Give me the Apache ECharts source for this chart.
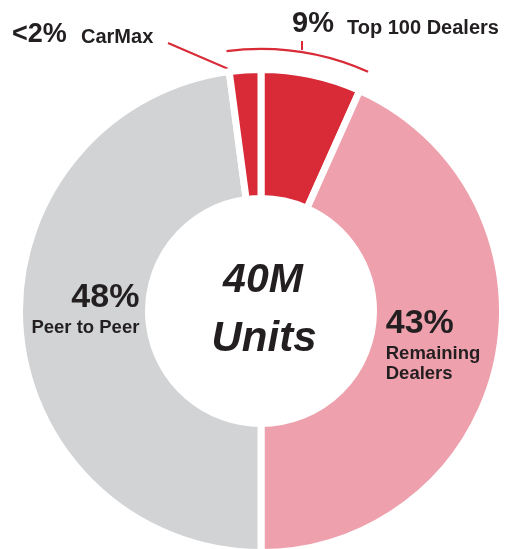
<!DOCTYPE html>
<html>
<head>
<meta charset="utf-8">
<script src="https://cdn.jsdelivr.net/npm/echarts@6/dist/echarts.min.js"></script>
<style>
html,body{margin:0;padding:0;background:#fff;}
#chart{width:517px;height:549px;}
</style>
</head>
<body>
<div id="chart"></div>
<script>
// Segment order clockwise from 12 o'clock
const categories = ['Top 100 Dealers', 'Remaining Dealers', 'Peer to Peer', 'CarMax'];
// Angular shares as read from the ring (percent of the circle)
const shares = [6.7, 43.3, 47.9, 2.1];
// Printed percentage labels
const pctLabels = ['9%', '43%', '48%', '<2%'];
const colors = ['#d92b37', '#eea0ac', '#d1d3d4', '#d92b37'];
const centerLines = ['40M', 'Units'];

const FONT = '"Liberation Sans", Arial, Helvetica, sans-serif';
const TXT = '#231f20';
const RED = '#d92b37';

const chart = echarts.init(document.getElementById('chart'), null, {renderer: 'canvas'});

const labelCfg = [
  {show: false},
  {show: true, position: 'inside', offset: [-4, -5],
   formatter: p => '{big|' + pctLabels[p.dataIndex] + '}\n{small|Remaining}\n{small|Dealers}',
   rich: {
     big: {fontFamily: FONT, fontWeight: 'bold', fontSize: 34, color: TXT, align: 'left', lineHeight: 40},
     small: {fontFamily: FONT, fontWeight: 'bold', fontSize: 18.5, color: TXT, align: 'left', lineHeight: 20}
   }},
  {show: true, position: 'inside', offset: [4, -14],
   formatter: p => '{big|' + pctLabels[p.dataIndex] + '}\n{small|' + p.name + '}',
   rich: {
     big: {fontFamily: FONT, fontWeight: 'bold', fontSize: 34, color: TXT, align: 'right', lineHeight: 38},
     small: {fontFamily: FONT, fontWeight: 'bold', fontSize: 18.5, color: TXT, align: 'right', lineHeight: 22}
   }},
  {show: false}
];

const ringData = categories.map((name, i) => ({
  name: name,
  value: shares[i],
  itemStyle: {color: colors[i]},
  label: labelCfg[i]
}));

const bracketColors = [RED, 'rgba(0,0,0,0)', 'rgba(0,0,0,0)', RED];
const bracketData = categories.map((name, i) => ({
  name: name, value: shares[i], itemStyle: {color: bracketColors[i]}
}));

chart.setOption({
  animation: false,
  backgroundColor: '#ffffff',
  series: [
    {
      type: 'pie',
      center: [261, 311],
      radius: [112.5, 241.5],
      startAngle: 90,
      clockwise: true,
      avoidLabelOverlap: false,
      silent: true,
      emphasis: {disabled: true},
      itemStyle: {borderColor: '#ffffff', borderWidth: 7},
      labelLine: {show: false},
      data: ringData
    },
    {
      type: 'pie',
      center: [261, 311],
      radius: [261, 263.2],
      startAngle: 90,
      clockwise: true,
      silent: true,
      emphasis: {disabled: true},
      label: {show: false},
      labelLine: {show: false},
      data: bracketData
    }
  ],
  graphic: [
    {type: 'text', x: 263, y: 281, style: {text: centerLines[0], font: 'italic bold 41px ' + FONT, fill: TXT, align: 'center', verticalAlign: 'middle'}},
    {type: 'text', x: 264, y: 339, style: {text: centerLines[1], font: 'italic bold 42px ' + FONT, fill: TXT, align: 'center', verticalAlign: 'middle'}},
    {type: 'text', x: 12, y: 35, style: {text: pctLabels[3], font: 'bold 27px ' + FONT, fill: TXT, align: 'left', verticalAlign: 'middle'}},
    {type: 'text', x: 81, y: 37, style: {text: categories[3].replace(' ', ''), font: 'bold 20px ' + FONT, fill: TXT, align: 'left', verticalAlign: 'middle'}},
    {type: 'text', x: 292, y: 24, style: {text: pctLabels[0], font: 'bold 29px ' + FONT, fill: TXT, align: 'left', verticalAlign: 'middle'}},
    {type: 'text', x: 347, y: 28, style: {text: categories[0], font: 'bold 20px ' + FONT, fill: TXT, align: 'left', verticalAlign: 'middle'}},
    {type: 'polyline', shape: {points: [[168, 43], [233, 71], [238, 72]]}, style: {stroke: RED, lineWidth: 2, fill: null}},
    {type: 'line', shape: {x1: 302, y1: 41, x2: 302, y2: 50}, style: {stroke: RED, lineWidth: 2}}
  ]
});
</script>
</body>
</html>
